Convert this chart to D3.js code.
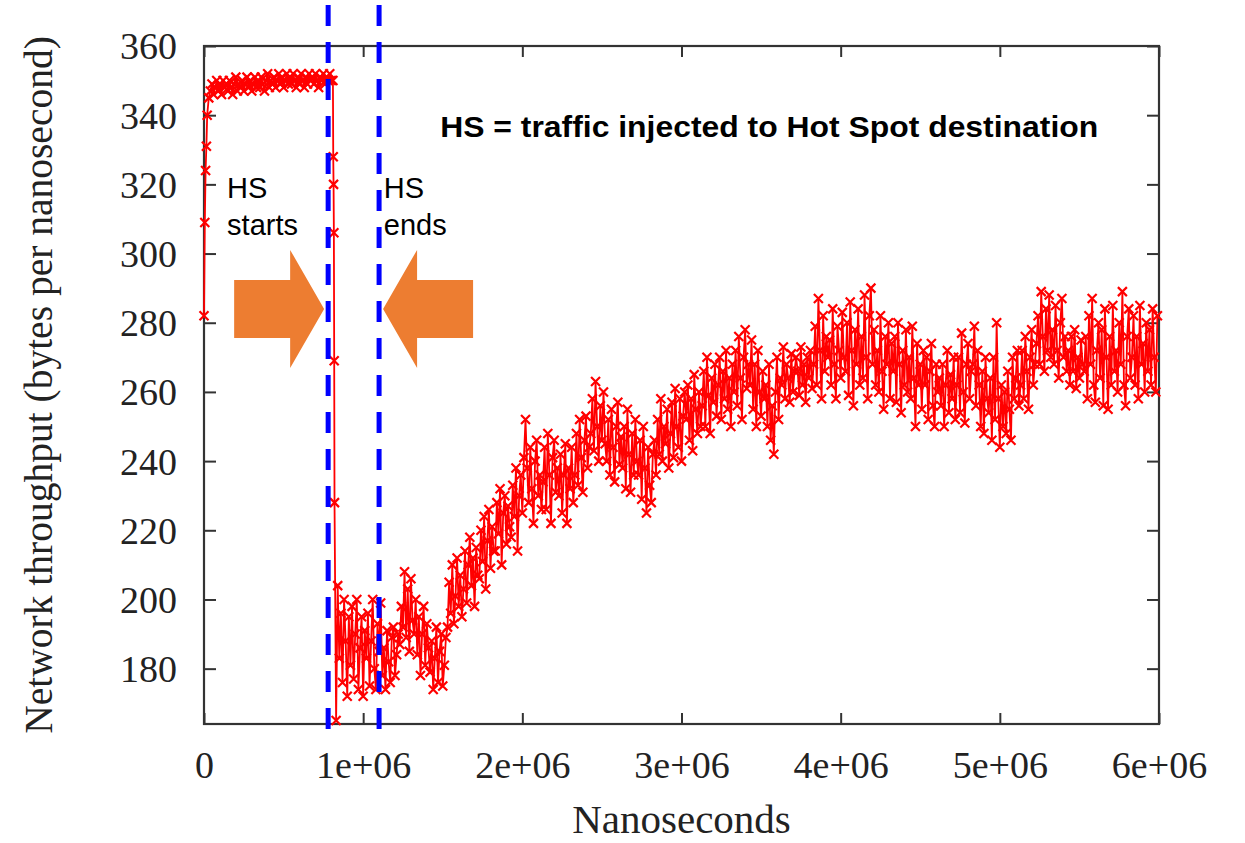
<!DOCTYPE html>
<html>
<head>
<meta charset="utf-8">
<script src="https://cdn.jsdelivr.net/npm/d3@7"></script>
<style>
body { margin: 0; background: #fff; }
</style>
</head>
<body>
<div id="throughput_plot"></div>
<script>
// Network throughput (bytes per nanosecond)
let sampleStep = 10000; // ns between regular samples

// ramp up right after start
let startupTimes = [0, 5000, 10000, 15000, 20000, 30000];
let startupValues = [282, 309, 324, 331, 340, 345];

// steady state before the hot spot kicks in
let plateauStart = 40000;
let plateauValues = [
	347, 349, 346, 348, 350, 347, 349, 346, 350, 348,
	349, 347, 350, 348, 346, 349, 351, 347, 349, 348,
	350, 347, 349, 351, 348, 350, 347, 349, 351, 348,
	350, 348, 351, 349, 347, 350, 352, 348, 350, 349,
	351, 348, 350, 352, 349, 351, 348, 350, 352, 349,
	351, 349, 352, 350, 348, 351, 349, 352, 350, 348,
	351, 349, 352, 350, 351, 349, 352, 350, 348, 351,
	350, 352, 349, 351, 350, 352, 350
];

// the collapse
let dropTimes = [810000, 812000, 814000, 816000, 818000, 820000];
let dropValues = [350, 328, 320, 306, 269, 228];

// slow recovery after the hot spot traffic
let recoveryStart = 830000;
let recoveryValues = [
	165, 204, 183, 196, 176, 200, 188, 172, 195, 181,
	198, 177, 190, 200, 174, 186, 195, 172, 191, 183,
	196, 175, 188, 200, 180, 174, 193, 185, 199, 178,
	186, 174, 191, 182, 176, 189, 192, 178, 184, 190,
	187, 198, 192, 208, 189, 203, 185, 206, 194, 190,
	200, 184, 195, 178, 190, 198, 181, 193, 186, 179,
	188, 174, 183, 192, 176, 185, 190, 175, 181, 189,
	192, 205, 196, 210, 193, 201, 212, 198, 207, 195,
	203, 214, 199, 210, 218, 204, 212, 198, 215, 207,
	206, 220, 211, 224, 203, 217, 226, 209, 221, 214,
	214, 228, 219, 232, 210, 225, 230, 216, 227, 221,
	218, 233, 224, 238, 214, 230, 236, 225, 241, 252,
	238, 228, 244, 232, 222, 240, 246, 230, 236, 226,
	234, 244, 226, 248, 236, 222, 241, 246, 231, 238,
	230, 242, 225, 236, 245, 222, 238, 232, 244, 228,
	236, 248, 233, 252, 241, 231, 246, 253, 238, 244,
	248, 258, 243, 263, 250, 240, 256, 246, 260, 245,
	240, 252, 236, 255, 244, 234, 250, 257, 239, 247,
	238, 250, 232, 255, 242, 231, 248, 236, 252, 240,
	236, 246, 229, 250, 238, 225, 244, 233, 228, 242,
	246, 236, 252, 242, 258, 240, 250, 245, 255, 238,
	248, 257, 241, 261, 250, 244, 258, 240, 253, 260,
	252, 262, 246, 258, 243, 265, 255, 248, 260, 250,
	256, 266, 250, 270, 259, 248, 264, 257, 268, 253,
	262, 270, 252, 266, 258, 272, 255, 264, 250, 268,
	260, 272, 256, 276, 264, 252, 270, 278, 261, 268,
	262, 275, 255, 268, 250, 272, 260, 253, 266, 258,
	262, 250, 268, 246, 256, 242, 260, 270, 252, 264,
	262, 273, 258, 268, 264, 257, 271, 260, 266, 270,
	266, 259, 273, 262, 268, 257, 270, 264, 272, 261,
	268, 279, 262, 287, 272, 258, 282, 266, 276, 270,
	275, 262, 284, 268, 258, 279, 272, 264, 283, 270,
	266, 280, 259, 286, 272, 256, 278, 268, 284, 262,
	276, 264, 288, 270, 258, 282, 290, 268, 278, 262,
	272, 260, 282, 266, 255, 276, 268, 280, 258, 274,
	266, 276, 257, 280, 268, 254, 272, 262, 278, 260,
	270, 258, 279, 264, 250, 274, 262, 268, 255, 272,
	262, 270, 252, 266, 274, 256, 250, 268, 260, 264,
	256, 268, 250, 262, 272, 254, 265, 258, 270, 252,
	262, 270, 254, 277, 260, 251, 268, 274, 258, 266,
	268, 279, 256, 272, 262, 250, 266, 248, 270, 258,
	254, 264, 246, 270, 252, 280, 258, 244, 262, 250,
	260, 248, 266, 255, 246, 270, 258, 264, 272, 256,
	262, 272, 258, 276, 266, 255, 270, 278, 262, 268,
	274, 282, 268, 289, 276, 266, 284, 272, 288, 270,
	278, 268, 285, 272, 264, 280, 287, 270, 276, 266,
	272, 262, 276, 266, 278, 261, 270, 264, 275, 268,
	266, 276, 258, 282, 268, 287, 262, 257, 272, 280,
	264, 278, 256, 284, 270, 255, 276, 262, 285, 266,
	272, 260, 280, 268, 289, 262, 256, 276, 284, 264,
	270, 282, 262, 276, 258, 285, 268, 274, 260, 280,
	266, 278, 262, 284, 270, 260, 282
];

let xTicks = [0, 1e6, 2e6, 3e6, 4e6, 5e6, 6e6];
let xTickLabels = ["0", "1e+06", "2e+06", "3e+06", "4e+06", "5e+06", "6e+06"];
let yTicks = [180, 200, 220, 240, 260, 280, 300, 320, 340, 360];

// hot spot window (blue dashed markers)
let hotSpotStart = 780000;
let hotSpotEnd = 1100000;

// put all the pieces into one series
var data = [];
startupTimes.forEach(function(t, i){ data.push({time: t, rate: startupValues[i]}); });
plateauValues.forEach(function(v, i){ data.push({time: plateauStart + i*sampleStep, rate: v}); });
dropTimes.forEach(function(t, i){ data.push({time: t, rate: dropValues[i]}); });
recoveryValues.forEach(function(v, i){ data.push({time: recoveryStart + i*sampleStep, rate: v}); });

drawThroughput(data, "throughput_plot");

function drawThroughput(data, id){
	var width = 1245, height = 843;
	var left = 204, right = 1159, top = 46, bottom = 724;
	var axisColor = "#333";
	var serif = "'Liberation Serif', 'Times New Roman', serif";

	var svg = d3.select("#"+id)
		.append("svg")
		.attr("width", width)
		.attr("height", height)
		.style("display", "block");

	svg.append("rect")
		.attr("width", width)
		.attr("height", height)
		.attr("fill", "#fff");

	var x = d3.scaleLinear()
		.domain([0, 6e6])
		.range([left, right]);

	var y = d3.scaleLinear()
		.domain([164, 360])
		.range([bottom, top]);

	// bottom axis, ticks pointing in
	var xAxis = svg.append("g")
		.attr("transform", "translate(0," + bottom + ")")
		.call(d3.axisBottom(x)
			.tickValues(xTicks)
			.tickFormat(function(d, i){ return xTickLabels[i]; })
			.tickSizeInner(-11)
			.tickSizeOuter(0)
			.tickPadding(27));

	// left axis
	var yAxis = svg.append("g")
		.attr("transform", "translate(" + left + ",0)")
		.call(d3.axisLeft(y)
			.tickValues(yTicks)
			.tickSizeInner(-12)
			.tickSizeOuter(0)
			.tickPadding(27));

	// mirrored ticks on top and right, like gnuplot does
	var topAxis = svg.append("g")
		.attr("transform", "translate(0," + top + ")")
		.call(d3.axisTop(x).tickValues(xTicks).tickFormat("").tickSizeInner(-11).tickSizeOuter(0));
	var rightAxis = svg.append("g")
		.attr("transform", "translate(" + right + ",0)")
		.call(d3.axisRight(y).tickValues(yTicks).tickFormat("").tickSizeInner(-12).tickSizeOuter(0));

	[xAxis, yAxis, topAxis, rightAxis].forEach(function(g){
		g.select(".domain").remove();
		g.selectAll(".tick line").attr("stroke", axisColor).attr("stroke-width", 2);
		g.selectAll(".tick text")
			.attr("fill", "#222")
			.style("font-family", serif)
			.style("font-size", "38px");
	});
	yAxis.selectAll(".tick text").attr("dy", "0.34em");

	// plot border
	svg.append("rect")
		.attr("x", left)
		.attr("y", top)
		.attr("width", right - left)
		.attr("height", bottom - top)
		.attr("fill", "none")
		.attr("stroke", axisColor)
		.attr("stroke-width", 2.2);

	// the line
	svg.append("path")
		.datum(data)
		.attr("fill", "none")
		.attr("stroke", "#f00")
		.attr("stroke-width", 1.8)
		.attr("stroke-linejoin", "round")
		.attr("d", d3.line()
			.x(function(d) { return x(d.time) })
			.y(function(d) { return y(d.rate) })
			);

	// x shaped point markers
	svg.append("g")
		.selectAll("path")
		.data(data)
		.join("path")
		.attr("transform", function(d){ return "translate(" + x(d.time) + "," + y(d.rate) + ")"; })
		.attr("d", "M-4.5,-4.5L4.5,4.5M-4.5,4.5L4.5,-4.5")
		.attr("stroke", "#f00")
		.attr("stroke-width", 2.2)
		.attr("fill", "none");

	// orange arrows pointing at the hot spot window
	var arrowY = y(284);
	var orange = "#ed7d31";
	function arrowPoints(tipX, dir){
		// dir = 1 points right, -1 points left
		return [
			[tipX, arrowY],
			[tipX - dir*34, arrowY - 59],
			[tipX - dir*34, arrowY - 29],
			[tipX - dir*90, arrowY - 29],
			[tipX - dir*90, arrowY + 29],
			[tipX - dir*34, arrowY + 29],
			[tipX - dir*34, arrowY + 59]
		];
	}
	svg.append("path")
		.attr("d", d3.line()(arrowPoints(x(hotSpotStart) - 4, 1)) + "Z")
		.attr("fill", orange);
	svg.append("path")
		.attr("d", d3.line()(arrowPoints(x(hotSpotEnd) + 4, -1)) + "Z")
		.attr("fill", orange);

	// blue dashed lines
	[hotSpotStart, hotSpotEnd].forEach(function(t){
		svg.append("line")
			.attr("x1", x(t)).attr("x2", x(t))
			.attr("y1", 5).attr("y2", 736)
			.attr("stroke", "#0000ff")
			.attr("stroke-width", 5)
			.attr("stroke-dasharray", "21,16");
	});

	// annotation text
	var sans = "'Liberation Sans', Arial, sans-serif";
	function note(tx, ty, lines){
		var t = svg.append("text")
			.attr("x", tx)
			.attr("y", ty)
			.style("font-family", sans)
			.style("font-size", "29px")
			.attr("fill", "#000");
		lines.forEach(function(s, i){
			t.append("tspan").attr("x", tx).attr("dy", i ? 37 : 0).text(s);
		});
	}
	note(x(145000), y(316), ["HS", "starts"]);
	note(x(1130000), y(316), ["HS", "ends"]);

	svg.append("text")
		.attr("x", x(1484000))
		.attr("y", y(333.6))
		.attr("textLength", 658)
		.attr("lengthAdjust", "spacingAndGlyphs")
		.style("font-family", "'Liberation Sans Narrow', " + sans)
		.style("font-weight", "bold")
		.style("font-size", "30px")
		.text("HS = traffic injected to Hot Spot destination");

	// axis titles
	svg.append("text")
		.attr("x", (left + right)/2)
		.attr("y", 833)
		.attr("text-anchor", "middle")
		.attr("fill", "#222")
		.style("font-family", serif)
		.style("font-size", "41px")
		.text("Nanoseconds");

	svg.append("text")
		.attr("transform", "translate(52," + (top + bottom)/2 + ") rotate(-90)")
		.attr("text-anchor", "middle")
		.attr("fill", "#222")
		.style("font-family", serif)
		.style("font-size", "39.5px")
		.text("Network throughput (bytes per nanosecond)");
}
</script>
</body>
</html>
